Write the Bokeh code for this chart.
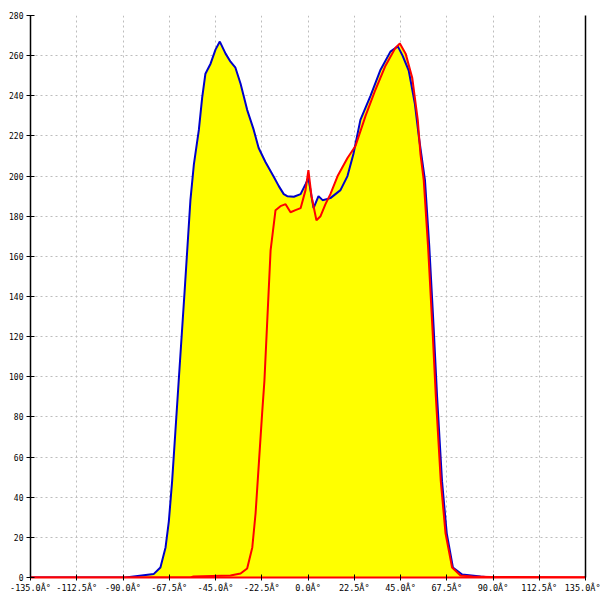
from bokeh.plotting import figure
from bokeh.models import LinearAxis, FixedTicker, CustomJSTickFormatter, Range1d, Grid
from bokeh.embed import file_html
from bokeh.resources import INLINE

# Blue series (angle in degrees, value)
blue_x = [-150, -101, -88.8, -75.0, -71.8, -69.3, -67.7, -66.1, -64.5, -62.9, -60.0, -57.2,
          -55.5, -53.1, -51.5, -49.9, -47.4, -45.0, -42.9, -40.1, -37.7, -35.3, -32.8,
          -29.6, -26.4, -24.0, -20.7, -16.6, -14.2, -11.8, -10.1, -6.9, -3.6, -1.2, 0.2,
          2.7, 5.1, 7.1, 10.9, 15.8, 19.2, 22.1, 25.5, 30.4, 35.3, 40.1, 43.7, 46.0,
          49.0, 52.0, 54.0, 56.9, 59.0, 61.2, 62.8, 65.2, 67.5, 70.5, 75.0, 84.0, 89.0]
blue_y = [0, 0, 0, 1.8, 5, 15, 28, 48, 73, 98, 143, 188,
          206, 223, 239, 251, 256, 263, 267, 261, 257, 254, 246,
          233, 223, 214, 207, 199.5, 195, 191, 190, 189.7, 191, 196, 199,
          184, 190, 188, 189, 193, 200, 211, 228, 240, 253, 262, 264.6, 260,
          252.6, 236, 219, 198, 165, 123, 90, 48, 22, 5, 1.5, 0.5, 0]

# Red series
red_x = [-150, -57.2, -55.7, -37.7, -32.8, -29.6, -27.1, -25.5, -23.9, -22.3, -21.2, -18.2,
         -15.8, -13.4, -10.9, -8.5, -6.1, -3.6, -1.2, 0.2, 1.7, 4.1, 6.1, 8.5, 10.9, 14.4,
         19.2, 23.1, 28.0, 32.8, 37.7, 42.6, 44.7, 47.5, 50.7, 53.4, 54.7, 56.3, 58.4,
         60.6, 62.2, 64.6, 66.9, 70.1, 74.2, 80.0, 88.8, 150]
red_y = [0, 0, 0.5, 1, 2, 4.5, 15, 32, 57, 82, 98, 163,
         183, 185, 186, 182, 183, 184, 193, 203, 190, 178, 180, 186, 191, 200,
         209, 215, 230, 243, 255, 264, 266, 261, 249, 228, 211, 198, 165,
         123, 90, 48, 22, 5, 1, 0.5, 0.3, 0]

x_ticks = [-135, -112.5, -90, -67.5, -45, -22.5, 0, 22.5, 45, 67.5, 90, 112.5, 135]
y_ticks = [0, 20, 40, 60, 80, 100, 120, 140, 160, 180, 200, 220, 240, 260, 280]

p = figure(width=600, height=600, output_backend="svg", toolbar_location=None,
           x_range=Range1d(-135, 135), y_range=Range1d(0, 280),
           min_border_left=30, min_border_right=15, min_border_top=15, min_border_bottom=23,
           x_axis_type=None, y_axis_type=None)
p.outline_line_color = None
p.background_fill_color = "white"
p.border_fill_color = "white"

FONT = "DejaVu Sans Mono"

xaxis = LinearAxis(ticker=FixedTicker(ticks=x_ticks),
                   formatter=CustomJSTickFormatter(code='return tick.toFixed(1) + "Â°";'))
xaxis.axis_line_color = "#ff0000"
xaxis.axis_line_width = 2
xaxis.major_tick_in = 3
xaxis.major_tick_out = 3
xaxis.minor_tick_line_color = None
xaxis.major_label_standoff = 2
xaxis.major_label_text_font = FONT
xaxis.major_label_text_font_size = "8.5px"
xaxis.major_label_text_color = "black"
p.add_layout(xaxis, "below")

yaxis = LinearAxis(ticker=FixedTicker(ticks=y_ticks))
yaxis.axis_line_color = "black"
yaxis.axis_line_width = 1.5
yaxis.major_tick_in = 4
yaxis.major_tick_out = 4
yaxis.minor_tick_line_color = None
yaxis.major_label_standoff = 3
yaxis.major_label_text_font = FONT
yaxis.major_label_text_font_size = "8px"
yaxis.major_label_text_color = "black"
p.add_layout(yaxis, "left")

raxis = LinearAxis(ticker=FixedTicker(ticks=[]))
raxis.axis_line_color = "black"
raxis.axis_line_width = 1.5
raxis.major_tick_line_color = None
raxis.minor_tick_line_color = None
raxis.major_label_text_font_size = "0px"
p.add_layout(raxis, "right")

for dim, ticks in ((0, x_ticks), (1, y_ticks)):
    g = Grid(dimension=dim, ticker=FixedTicker(ticks=ticks),
             grid_line_color="#bdbdbd", grid_line_dash="2 3", grid_line_width=1)
    p.add_layout(g)

p.varea(x=blue_x, y1=0, y2=blue_y, fill_color="#ffff00")
p.varea(x=red_x, y1=0, y2=red_y, fill_color="#ffff00")
p.line(blue_x, blue_y, line_color="#0000cc", line_width=2)
p.line(red_x, red_y, line_color="#ff0000", line_width=2)

open("out.html", "w").write(file_html(p, INLINE))
